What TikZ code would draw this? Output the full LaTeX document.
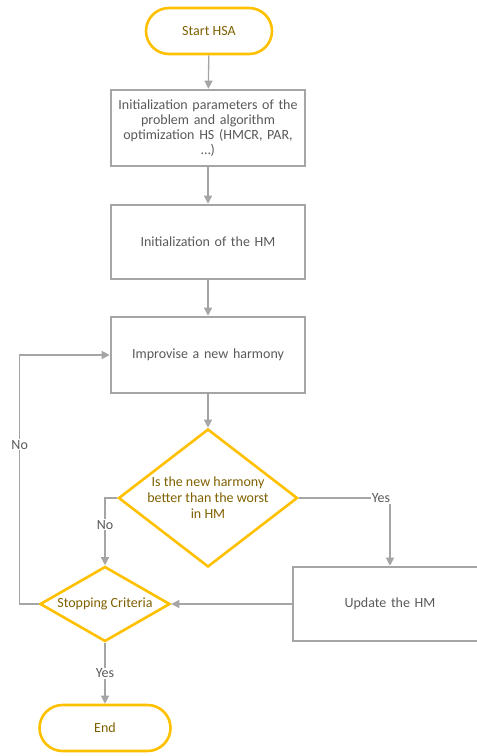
\documentclass[tikz,border=0pt]{standalone}
\usepackage{fontspec}
\setmainfont{Carlito}
\usetikzlibrary{arrows.meta,shapes.geometric,positioning}
\definecolor{hsyel}{HTML}{FFC000}
\definecolor{hsgray}{HTML}{A5A5A5}
\definecolor{hstxt}{HTML}{595959}
\definecolor{hsgold}{HTML}{7F6000}
\tikzset{
  term/.style  = { draw=hsyel, line width=2.6pt, rounded corners=23pt, minimum width=#1,
    minimum height=46pt, text=hsgold, font=\fontsize{14}{15}\selectfont },
  proc/.style  = { draw=hsgray, line width=2.6pt, minimum width=194pt, minimum height=#1,
    inner sep=4pt, text width=186pt, align=center, text=hstxt, font=\fontsize{14}{15}\selectfont },
  dec/.style   = { draw=hsyel, line width=2.6pt, diamond, inner sep=0pt },
  dectxt/.style = { align=center, text=hsgold, font=\fontsize{14}{16}\selectfont },
  ln/.style    = { draw=hsgray, line width=1.3pt, -{Triangle[width=8pt,length=8pt]} },
  lbl/.style   = { fill=white, inner sep=1pt, text=hstxt, font=\fontsize{14}{15}\selectfont }
}
\begin{document}
\begin{tikzpicture}[x=1pt,y=-1pt]
  \useasboundingbox (0,0) rectangle (477,756);
  \clip (0,0) rectangle (477,756);
  \node[term=126pt] (start) at (209,31) {Start HSA};
  \node[proc=76pt] (init) at (208,128) {Initialization parameters of the\\problem and algorithm\\optimization HS (HMCR, PAR,\\\dots)};
  \node[proc=74pt] (hm) at (208,242) {Initialization of the HM};
  \node[proc=76pt] (impr) at (208,355) {Improvise a new harmony};
  \node[dec, minimum width=179pt, minimum height=138pt,
    label={[dectxt]center:Is the new harmony\\better than the worst\\in HM}] (better) at (208,498) {};
  \node[proc=74pt] (upd) at (390,604) {Update the HM};
  \node[dec, minimum width=130pt, minimum height=75pt,
    label={[dectxt]center:Stopping Criteria}] (stop) at (105,604) {};
  \node[term=131pt] (end) at (105,728) {End};
  % main flow
  \draw[ln] (start) -- (init);
  \draw[ln] (init) -- (hm);
  \draw[ln] (hm) -- (impr);
  \draw[ln] (impr) -- (better);
  % decisions
  \draw[ln] (better.west) -| node[lbl, pos=0.7] {No} (stop.north);
  \draw[ln] (better.east) -| node[lbl, pos=0.45] {Yes} (upd.north);
  \draw[ln] (upd.west) -- (stop.east);
  \draw[ln] (stop.west) -- ++(-19,0) |- node[lbl, pos=0.32] {No} (impr.west);
  \draw[ln] (stop) -- node[lbl] {Yes} (end);
\end{tikzpicture}
\end{document}
